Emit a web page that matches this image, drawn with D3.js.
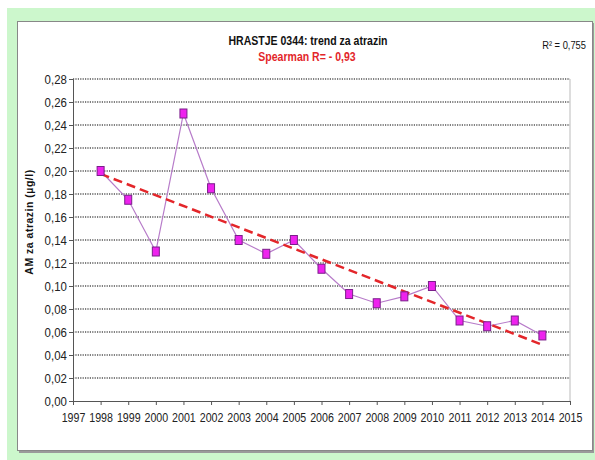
<!DOCTYPE html>
<html>
<head>
<meta charset="utf-8">
<script src="https://cdn.jsdelivr.net/npm/d3@7"></script>
<style>
  body { margin: 0; background: #fff; }
  text { font-family: "Liberation Sans", Arial, sans-serif; }
</style>
</head>
<body>
<svg id="chart"></svg>
<script>
const years = [1998, 1999, 2000, 2001, 2002, 2003, 2004, 2005, 2006, 2007, 2008, 2009, 2010, 2011, 2012, 2013, 2014];
const values = [0.200, 0.175, 0.130, 0.250, 0.185, 0.140, 0.128, 0.140, 0.115, 0.093, 0.085, 0.091, 0.100, 0.070, 0.065, 0.070, 0.057];
const yTicks = [0, 0.02, 0.04, 0.06, 0.08, 0.10, 0.12, 0.14, 0.16, 0.18, 0.20, 0.22, 0.24, 0.26, 0.28];
const xTicks = d3.range(1997, 2016);

const width = 595, height = 460;
const margin = { top: 79, right: 25, bottom: 59, left: 73 };

const svg = d3.select('#chart')
  .attr('width', width)
  .attr('height', height);

// green frame + white box
svg.append('rect').attr('x', 7).attr('y', 8).attr('width', 588).attr('height', 452).attr('fill', '#ccf7cc');
svg.append('rect').attr('x', 19).attr('y', 23).attr('width', 575).attr('height', 430).attr('fill', '#9a9a9a');
svg.append('rect').attr('x', 17.5).attr('y', 21.5).attr('width', 575).attr('height', 429)
  .attr('fill', '#fff').attr('stroke', '#888').attr('stroke-width', 1);

const x = d3.scaleLinear().domain([1997, 2015]).range([margin.left, width - margin.right]);
const y = d3.scaleLinear().domain([0, 0.28]).range([height - margin.bottom, margin.top]);
const fmt = d => d3.format('.2f')(d).replace('.', ',');

// gridlines
svg.append('g')
  .selectAll('line')
  .data(yTicks.filter(d => d > 0))
  .enter()
  .append('line')
  .attr('x1', x(1997)).attr('x2', x(2015))
  .attr('y1', d => y(d)).attr('y2', d => y(d))
  .attr('stroke', '#555')
  .attr('stroke-width', 1.6)
  .attr('stroke-dasharray', '1.2,1.2');

// right border of plot area
svg.append('line')
  .attr('x1', x(2015)).attr('x2', x(2015))
  .attr('y1', y(0.28)).attr('y2', y(0))
  .attr('stroke', '#bbb');

const yAxis = svg.append('g')
  .attr('transform', `translate(${margin.left},0)`)
  .call(d3.axisLeft(y).tickValues(yTicks).tickFormat(fmt).tickSize(4).tickPadding(3));

const xAxis = svg.append('g')
  .attr('transform', `translate(0,${height - margin.bottom})`)
  .call(d3.axisBottom(x).tickValues(xTicks).tickFormat(d3.format('d')).tickSize(4).tickPadding(8));

[yAxis, xAxis].forEach(a => {
  a.select('.domain').attr('stroke', '#555');
  a.selectAll('.tick line').attr('stroke', '#555');
  a.selectAll('.tick text').attr('fill', '#222').style('font-size', '13px');
});
// narrow look
yAxis.selectAll('.tick text').attr('transform', 'scale(0.88,1)');
xAxis.selectAll('.tick text').attr('transform', 'scale(0.82,1)');

// linear trend (least squares)
const mx = d3.mean(years), my = d3.mean(values);
const slope = d3.sum(years, (d, i) => (d - mx) * (values[i] - my)) / d3.sum(years, d => (d - mx) * (d - mx));
const trend = years.map(d => [d, my + slope * (d - mx)]);
const ends = [trend[0], trend[trend.length - 1]];

svg.append('path')
  .attr('d', d3.line().x(d => x(d[0])).y(d => y(d[1]))(years.map((d, i) => [d, values[i]])))
  .attr('fill', 'none')
  .attr('stroke', '#b77bc9')
  .attr('stroke-width', 1.2);

svg.append('path')
  .attr('d', d3.line().x(d => x(d[0])).y(d => y(d[1]))(ends))
  .attr('fill', 'none')
  .attr('stroke', '#e3262a')
  .attr('stroke-width', 2.5)
  .attr('stroke-dasharray', '9,5');

svg.append('g')
  .selectAll('rect')
  .data(years)
  .enter()
  .append('rect')
  .attr('x', d => x(d) - 3.5)
  .attr('y', (d, i) => y(values[i]) - 4.5)
  .attr('width', 7)
  .attr('height', 9)
  .attr('fill', '#ee22ee')
  .attr('stroke', '#7a1f8a')
  .attr('stroke-width', 1);

// titles
svg.append('text')
  .attr('transform', 'translate(308,45) scale(0.78,1)')
  .attr('text-anchor', 'middle')
  .style('font-size', '13.5px').style('font-weight', 'bold')
  .attr('fill', '#111')
  .text('HRASTJE 0344: trend za atrazin');

svg.append('text')
  .attr('transform', 'translate(307,61) scale(0.78,1)')
  .attr('text-anchor', 'middle')
  .style('font-size', '13.5px').style('font-weight', 'bold')
  .attr('fill', '#e3262a')
  .text('Spearman R= - 0,93');

svg.append('text')
  .attr('transform', 'translate(586,49) scale(0.85,1)')
  .attr('text-anchor', 'end')
  .style('font-size', '11px')
  .attr('fill', '#111')
  .text('R² = 0,755');

svg.append('text')
  .attr('transform', 'translate(33,222) rotate(-90)')
  .attr('text-anchor', 'middle')
  .style('font-size', '10.5px').style('font-weight', 'bold')
  .style('letter-spacing', '0.5px')
  .attr('fill', '#111')
  .text('AM za atrazin (µg/l)');
</script>
</body>
</html>
